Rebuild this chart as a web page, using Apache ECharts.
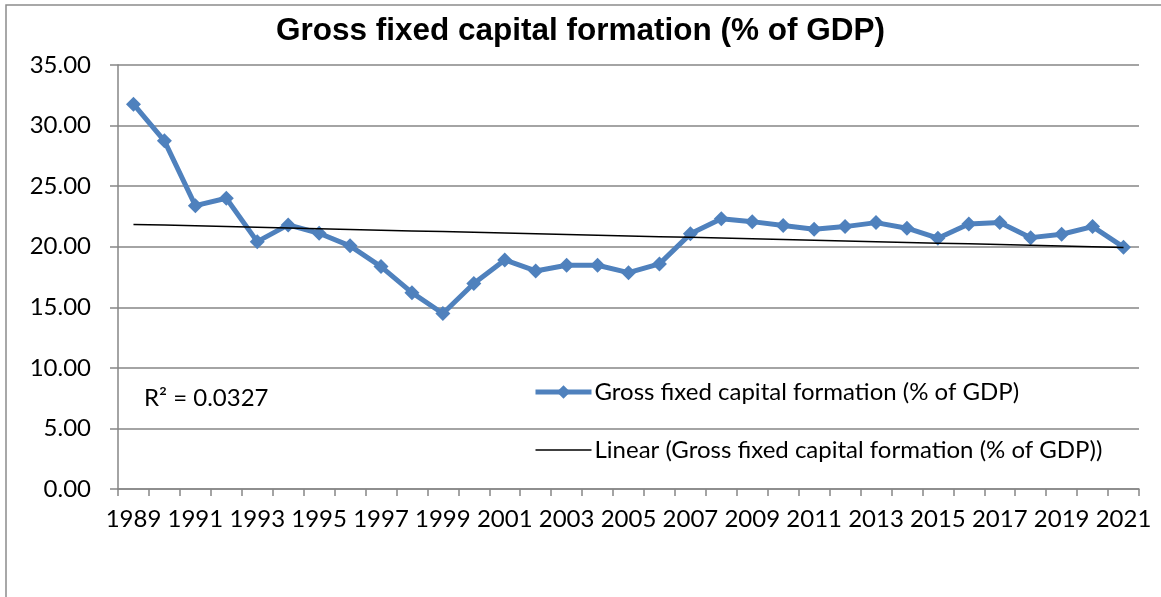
<!DOCTYPE html>
<html>
<head>
<meta charset="utf-8">
<script src="https://cdn.jsdelivr.net/npm/echarts@6/dist/echarts.min.js"></script>
<style>
html,body{margin:0;padding:0;background:#fff;}
#chart{width:1161px;height:597px;}
</style>
</head>
<body>
<div id="chart"></div>
<script>
const titleText = 'Gross fixed capital formation (% of GDP)';
const seriesName = 'Gross fixed capital formation (% of GDP)';
const trendName = 'Linear (Gross fixed capital formation (% of GDP))';
const years = ['1989','1990','1991','1992','1993','1994','1995','1996','1997','1998','1999','2000','2001','2002','2003','2004','2005','2006','2007','2008','2009','2010','2011','2012','2013','2014','2015','2016','2017','2018','2019','2020','2021'];
const gfcf = [31.77,28.74,23.39,24.00,20.42,21.80,21.11,20.07,18.36,16.21,14.49,16.96,18.91,18.00,18.47,18.47,17.86,18.58,21.06,22.30,22.07,21.75,21.44,21.66,21.99,21.53,20.70,21.88,21.99,20.75,21.03,21.66,19.96];
const r2Text = 'R² = 0.0327';

// linear trendline (least squares) computed from the series
const n = gfcf.length;
let sx=0, sy=0, sxx=0, sxy=0;
for (let i=0;i<n;i++){ sx+=i; sy+=gfcf[i]; sxx+=i*i; sxy+=i*gfcf[i]; }
const slope = (n*sxy - sx*sy)/(n*sxx - sx*sx);
const intercept = (sy - slope*sx)/n;
const trend = gfcf.map((_,i)=> +(intercept + slope*i).toFixed(3));

const FONT = 'Lato, "Open Sans", sans-serif';
const FS = 24;
const chart = echarts.init(document.getElementById('chart'), null, {renderer:'canvas'});
chart.setOption({
  animation:false,
  backgroundColor:'#ffffff',
  title:{
    text:titleText, left:'center', top:10,
    textStyle:{fontFamily:'"Liberation Sans", Arial, sans-serif', fontWeight:'bold', fontSize:31.5, color:'#000'}
  },
  grid:{left:118, right:22, top:65, bottom:108},
  legend:{
    orient:'vertical', left:528, top:375, itemGap:34, itemWidth:56, itemHeight:17,
    textStyle:{fontFamily:FONT, fontSize:FS, color:'#000', padding:[0,0,0,-2]},
    data:[
      {name:seriesName, lineStyle:{width:5, color:'#4F81BD'}},
      {name:trendName, itemStyle:{opacity:0}, lineStyle:{width:1.5, color:'#000'}}
    ]
  },
  xAxis:{
    type:'category', data:years, boundaryGap:true,
    axisLine:{lineStyle:{color:'#868686', width:1.5}},
    axisTick:{show:true, length:7, alignWithLabel:false, interval:0, lineStyle:{color:'#868686', width:1.5}},
    axisLabel:{interval:1, fontFamily:FONT, fontSize:FS, color:'#000', margin:18}
  },
  yAxis:{
    type:'value', min:0, max:35, interval:5,
    axisLine:{show:true, lineStyle:{color:'#868686', width:1.5}},
    axisTick:{show:true, length:8, lineStyle:{color:'#868686', width:1.5}},
    axisLabel:{fontFamily:FONT, fontSize:FS, color:'#000', margin:27, formatter:v=>v.toFixed(2)},
    splitLine:{show:true, lineStyle:{color:'#868686', width:1.5}}
  },
  graphic:[
    {type:'rect', shape:{x:6, y:5, width:1170, height:600}, style:{fill:'none', stroke:'#8c8c8c', lineWidth:1.5}, silent:true},
    {type:'text', left:144, top:386, style:{text:r2Text, fontFamily:FONT, fontSize:FS, fill:'#000'}}
  ],
  series:[
    {
      name:seriesName, type:'line', data:gfcf, z:3,
      symbol:'diamond', symbolSize:15, showSymbol:true,
      lineStyle:{color:'#4F81BD', width:5},
      itemStyle:{color:'#4F81BD'}
    },
    {
      name:trendName, type:'line', data:trend, z:4,
      symbol:'none', lineStyle:{color:'#000', width:1.5},
      itemStyle:{color:'#000'}
    }
  ]
});
</script>
</body>
</html>
